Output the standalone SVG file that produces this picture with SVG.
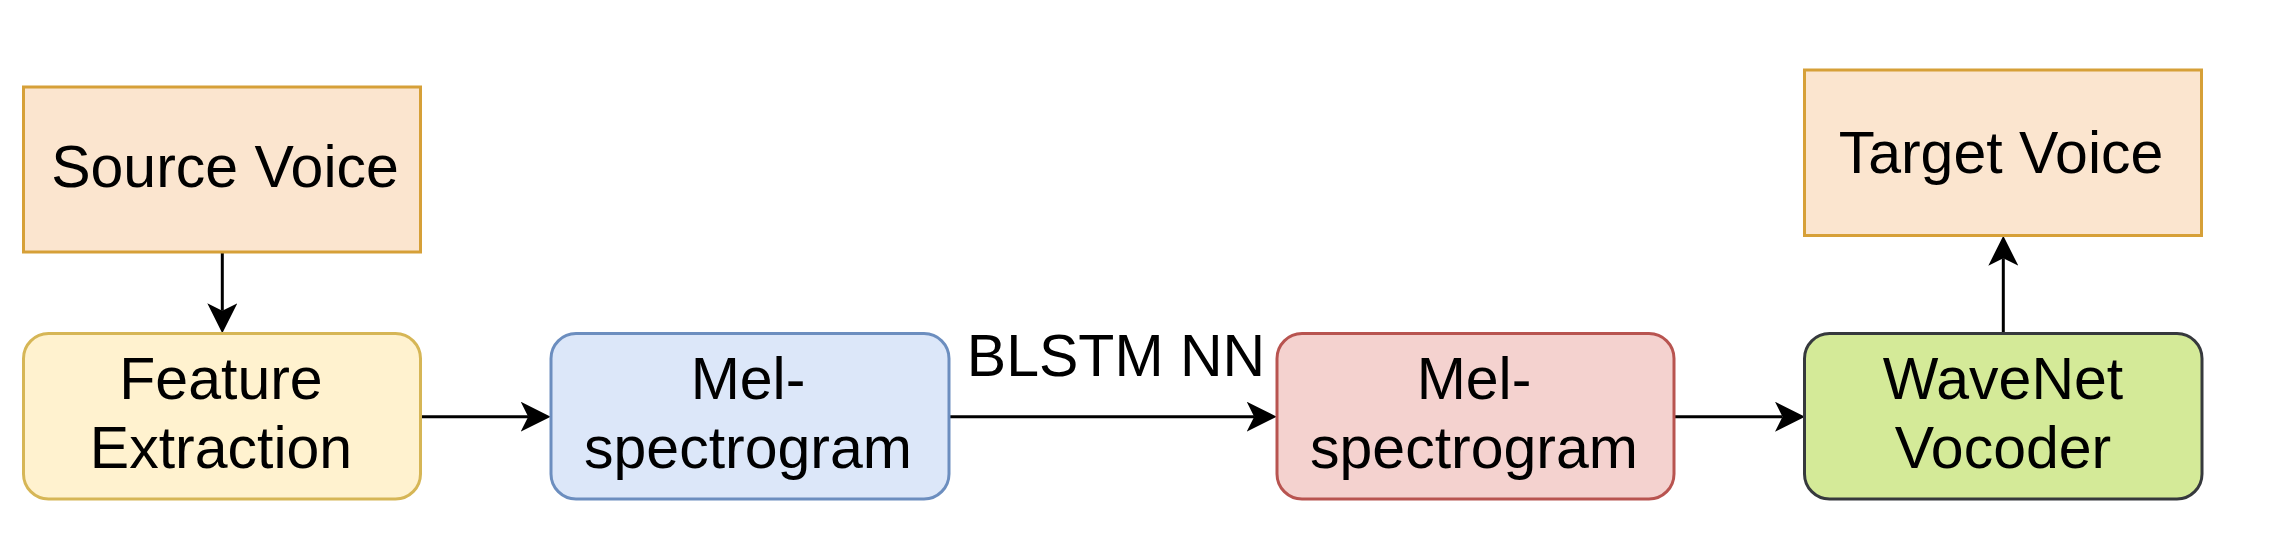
<svg xmlns="http://www.w3.org/2000/svg" width="2276" height="540" viewBox="0 0 2276 540">
<style>
.node{stroke-width:3}
.lbl{font-family:"Liberation Sans",Arial,Helvetica,sans-serif;font-size:59px;fill:#000;text-anchor:middle}
.edge{stroke:#000;stroke-width:3;fill:none}
</style>
<defs>
<marker id="arr" viewBox="0 0 30 30" refX="7.5" refY="15" markerWidth="30" markerHeight="30" markerUnits="userSpaceOnUse" orient="auto">
<path d="M30,15 L0,0 L7.5,15 L0,30 Z" fill="#000"/>
</marker>
</defs>
<rect width="2276" height="540" fill="#ffffff"/>
<g id="connectors">
<line class="edge" x1="222.3" y1="252.3" x2="222.3" y2="310.8" marker-end="url(#arr)"/>
<line class="edge" x1="421" y1="416.7" x2="528.2" y2="416.7" marker-end="url(#arr)"/>
<line class="edge" x1="949" y1="416.7" x2="1254.2" y2="416.7" marker-end="url(#arr)"/>
<line class="edge" x1="1674.3" y1="416.7" x2="1782.5" y2="416.7" marker-end="url(#arr)"/>
<line class="edge" x1="2003.3" y1="333.3" x2="2003.3" y2="258.2" marker-end="url(#arr)"/>
<text class="lbl" x="1116" y="376">BLSTM NN</text>
</g>
<g id="source-voice">
<rect class="node" x="23.5" y="87" width="397" height="165" fill="#fbe5cf" stroke="#d6a038"/>
<text class="lbl" x="225" y="187.3">Source Voice</text>
</g>
<g id="feature-extraction">
<rect class="node" x="23.5" y="333.5" width="397" height="165.5" rx="25" fill="#fff2cf" stroke="#d6b656"/>
<text class="lbl" x="221" y="399.3">Feature</text>
<text class="lbl" x="221" y="467.7">Extraction</text>
</g>
<g id="mel-spectrogram-1">
<rect class="node" x="551" y="333.5" width="398" height="165.5" rx="25" fill="#dce7f9" stroke="#6c8ebf"/>
<text class="lbl" x="748" y="399.3">Mel-</text>
<text class="lbl" x="748" y="468.3">spectrogram</text>
</g>
<g id="mel-spectrogram-2">
<rect class="node" x="1277" y="333.5" width="397" height="165.5" rx="25" fill="#f4d2cf" stroke="#b85450"/>
<text class="lbl" x="1474" y="399.3">Mel-</text>
<text class="lbl" x="1474" y="468.3">spectrogram</text>
</g>
<g id="wavenet-vocoder">
<rect class="node" x="1804.5" y="333.5" width="397.5" height="165.5" rx="25" fill="#d4ea98" stroke="#36393d"/>
<text class="lbl" x="2003" y="399">WaveNet</text>
<text class="lbl" x="2003" y="468">Vocoder</text>
</g>
<g id="target-voice">
<rect class="node" x="1804.5" y="70" width="397" height="165.5" fill="#fbe5cf" stroke="#d6a038"/>
<text class="lbl" x="2001" y="172.7">Target Voice</text>
</g>
</svg>
